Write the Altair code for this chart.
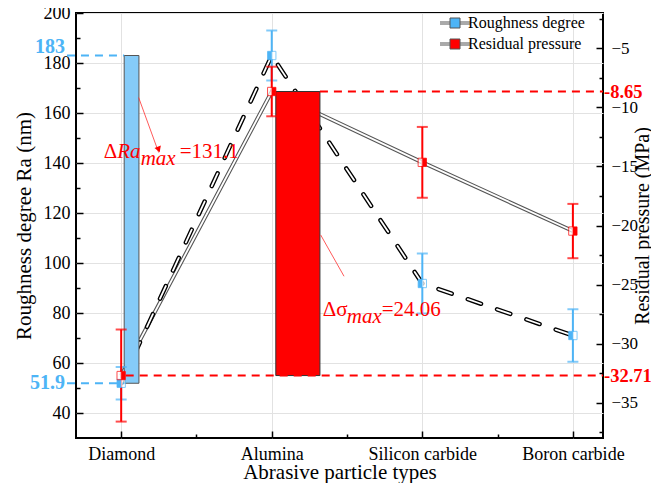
import json
import altair as alt
import pandas as pd

# ---------------- data ----------------
types = ["Diamond", "Alumina", "Silicon carbide", "Boron carbide"]
positions = [0, 1, 2, 3]
roughness = [51.9, 183.0, 91.8, 71.0]
roughness_err = [6.5, 10.0, 12.0, 10.5]
pressure = [-32.71, -8.65, -14.65, -20.47]
pressure_err = [3.9, 2.1, 3.0, 2.3]
series_names = ["Roughness degree", "Residual pressure"]

ra_ticks = [40, 60, 80, 100, 120, 140, 160, 180, 200]
ra_minor = [50, 70, 90, 110, 130, 150, 170, 190]
rp_ticks = [-5, -10, -15, -20, -25, -30, -35]
rp_minor = [-2.5, -7.5, -12.5, -17.5, -22.5, -27.5, -32.5, -37.5]
x_minor = [0.5, 1.5, 2.5]

delta_ra = "131.1"
delta_sigma = "24.06"

RA_DOMAIN = [30, 200]
RP_DOMAIN = [-38, -2]
X_DOMAIN = [-0.3, 3.2]

W, H = 527, 425
BLUE = "#4db4f6"
BLUE_FILL = "#85cbf8"
RED = "#ff0000"
FONT = "Liberation Serif"

df = pd.DataFrame({"type": types, "pos": positions, "ra": roughness, "ra_err": roughness_err,
                   "rp": pressure, "rp_err": pressure_err})
df["ra_lo"] = df["ra"] - df["ra_err"]
df["ra_hi"] = df["ra"] + df["ra_err"]
df["rp_lo"] = df["rp"] - df["rp_err"]
df["rp_hi"] = df["rp"] + df["rp_err"]
df["ra_series"] = series_names[0]
df["rp_series"] = series_names[1]


def X(field="pos", axis=None):
    return alt.X(field, type="quantitative", axis=axis,
                 scale=alt.Scale(domain=X_DOMAIN, nice=False, zero=False))


def X2(field):
    return alt.X2(field)


def YRA(field, axis=None):
    return alt.Y(field, type="quantitative", axis=axis,
                 scale=alt.Scale(domain=RA_DOMAIN, nice=False, zero=False))


def YRP(field, axis=None):
    return alt.Y(field, type="quantitative", axis=axis,
                 scale=alt.Scale(domain=RP_DOMAIN, nice=False, zero=False))


base = alt.Chart(df)
inv = dict(opacity=0)

label_expr = json.dumps(types) + "[datum.value]"

# ---- axes (labels / grid) ----
axis_main = base.mark_point(**inv).encode(
    x=X("pos", alt.Axis(orient="bottom", values=positions, labelExpr=label_expr, ticks=False,
                         grid=True, domain=False, title="Abrasive particle types",
                         labelPadding=7, labelFontSize=18, titleFontSize=21,
                         titleX=W / 2, titleY=34, titleBaseline="middle", titleAlign="center")),
    y=YRA("ra", alt.Axis(orient="left", values=ra_ticks, ticks=False, grid=True, domain=False,
                         title="Roughness degree Ra (nm)", labelPadding=6,
                         labelFontSize=18, titleFontSize=21,
                         titleX=-52, titleY=H / 2, titleAngle=270, titleBaseline="middle",
                         titleAlign="center")),
)
axis_major = base.mark_point(**inv).encode(
    x=X("pos", alt.Axis(orient="bottom", values=positions, labels=False, grid=False, domain=False,
                         title=None, tickSize=alt.ExprRef(expr="-7"), tickWidth=1.5, tickColor="black")),
    y=YRA("ra", alt.Axis(orient="left", values=ra_ticks, labels=False, grid=False, domain=False,
                         title=None, tickSize=alt.ExprRef(expr="-7"), tickWidth=1.5, tickColor="black")),
)
axis_minor = base.mark_point(**inv).encode(
    x=X("pos", alt.Axis(orient="bottom", values=x_minor, labels=False, grid=False, domain=False,
                         title=None, tickSize=alt.ExprRef(expr="-4"), tickWidth=1.5, tickColor="black")),
    y=YRA("ra", alt.Axis(orient="left", values=ra_minor, labels=False, grid=False, domain=False,
                         title=None, tickSize=alt.ExprRef(expr="-4"), tickWidth=1.5, tickColor="black")),
)
axis_rp = base.mark_point(**inv).encode(
    x=X("pos"),
    y=YRP("rp", alt.Axis(orient="right", values=rp_ticks, ticks=False, grid=False, domain=False,
                         title="Residual pressure (MPa)", labelPadding=8,
                         labelFontSize=17, titleFontSize=20,
                         titleX=39, titleY=H / 2, titleAngle=270, titleBaseline="middle",
                         titleAlign="center")),
)
axis_rp_major = base.mark_point(**inv).encode(
    x=X("pos"),
    y=YRP("rp", alt.Axis(orient="right", values=rp_ticks, labels=False, grid=False, domain=False,
                         title=None, tickSize=alt.ExprRef(expr="-7"), tickWidth=1.5, tickColor="black")),
)
axis_rp_minor = base.mark_point(**inv).encode(
    x=X("pos"),
    y=YRP("rp", alt.Axis(orient="right", values=rp_minor, labels=False, grid=False, domain=False,
                         title=None, tickSize=alt.ExprRef(expr="-4"), tickWidth=1.5, tickColor="black")),
)

# ---- lines (double-stroke look) ----
rp_outer = base.mark_line(color="#555555", strokeWidth=4).encode(x=X("pos"), y=YRP("rp"))
rp_inner = base.mark_line(color="white", strokeWidth=1.8).encode(x=X("pos"), y=YRP("rp"))
ra_outer = base.mark_line(color="black", strokeWidth=4.5, strokeDash=[14, 17], strokeCap="round").encode(
    x=X("pos"), y=YRA("ra"))
ra_inner = base.mark_line(color="white", strokeWidth=1.8, strokeDash=[14, 17], strokeCap="round").encode(
    x=X("pos"), y=YRA("ra"))

# ---- difference bars ----
bar_ra_df = pd.DataFrame({"x0": [positions[0] + 0.02], "x1": [positions[0] + 0.118],
                          "lo": [min(roughness)], "hi": [max(roughness)]})
bar_rp_df = pd.DataFrame({"x0": [positions[1] + 0.027], "x1": [positions[1] + 0.32],
                          "lo": [min(pressure)], "hi": [max(pressure)]})
bar_ra = alt.Chart(bar_ra_df).mark_rect(fill=BLUE_FILL, stroke="#555555", strokeWidth=1).encode(
    x=X("x0"), x2=X2("x1"), y=YRA("lo"), y2=alt.Y2("hi"))
bar_rp = alt.Chart(bar_rp_df).mark_rect(fill=RED, stroke="#333333", strokeWidth=1).encode(
    x=X("x0"), x2=X2("x1"), y=YRP("lo"), y2=alt.Y2("hi"))

# ---- error bars ----
eb_ra = base.mark_rule(color=BLUE, strokeWidth=2).encode(x=X("pos"), y=YRA("ra_lo"), y2=alt.Y2("ra_hi"))
cap_ra_lo = base.mark_tick(color=BLUE, orient="horizontal", size=11, thickness=2).encode(x=X("pos"), y=YRA("ra_lo"))
cap_ra_hi = base.mark_tick(color=BLUE, orient="horizontal", size=11, thickness=2).encode(x=X("pos"), y=YRA("ra_hi"))
eb_rp = base.mark_rule(color=RED, strokeWidth=2).encode(x=X("pos"), y=YRP("rp_lo"), y2=alt.Y2("rp_hi"))
cap_rp_lo = base.mark_tick(color=RED, orient="horizontal", size=11, thickness=2).encode(x=X("pos"), y=YRP("rp_lo"))
cap_rp_hi = base.mark_tick(color=RED, orient="horizontal", size=11, thickness=2).encode(x=X("pos"), y=YRP("rp_hi"))

# ---- markers ----
color_scale = alt.Scale(domain=series_names, range=[BLUE, RED])
legend = alt.Legend(orient="none", legendX=361, legendY=2, title=None,
                    symbolType="M-3,-0.2H-1M-3,0.2H-1M1,-0.2H3M1,0.2H3M-1,-1H1V1H-1Z",
                    symbolSize=100, symbolStrokeColor="#555555", symbolStrokeWidth=1,
                    symbolOffset=10, labelOffset=5, labelFont=FONT, labelFontSize=16,
                    labelColor="black", rowPadding=5)

mk_ra = base.mark_point(shape="square", size=70, filled=True, fill="white", stroke=BLUE,
                        strokeWidth=1).encode(x=X("pos"), y=YRA("ra"))
mk_ra_half = base.mark_point(shape="M-1,-1H0V1H-1Z", size=70, filled=True, opacity=1).encode(
    x=X("pos"), y=YRA("ra"), color=alt.Color("ra_series:N", scale=color_scale, legend=legend))
mk_rp = base.mark_point(shape="square", size=70, filled=True, fill="white", stroke=RED,
                        strokeWidth=1).encode(x=X("pos"), y=YRP("rp"))
mk_rp_half = base.mark_point(shape="M0,-1H1V1H0Z", size=70, filled=True, opacity=1).encode(
    x=X("pos"), y=YRP("rp"), color=alt.Color("rp_series:N", scale=color_scale, legend=legend))

# ---- highlight dashed lines and labels ----
hl_ra_df = pd.DataFrame({"v": [max(roughness), min(roughness)],
                         "x0": [X_DOMAIN[0] - 0.06] * 2, "x1": [positions[0] + 0.02] * 2,
                         "label": [f"{max(roughness):g}", f"{min(roughness):g}"],
                         "which": ["max", "min"]})
hl_rp_df = pd.DataFrame({"v": [max(pressure), min(pressure)],
                         "x0": [positions[1] + 0.32, positions[0] + 0.03], "x1": [X_DOMAIN[1]] * 2,
                         "label": [f"{max(pressure):g}", f"{min(pressure):g}"]})
hl_ra = alt.Chart(hl_ra_df).mark_rule(color=BLUE, strokeWidth=2, strokeDash=[8, 6], clip=False).encode(
    x=X("x0"), x2=X2("x1"), y=YRA("v"))
hl_rp = alt.Chart(hl_rp_df).mark_rule(color=RED, strokeWidth=2, strokeDash=[8, 6], clip=False).encode(
    x=X("x0"), x2=X2("x1"), y=YRP("v"))
hl_ra_txt_max = alt.Chart(hl_ra_df).transform_filter(alt.datum.which == "max").mark_text(
    color=BLUE, font=FONT, fontSize=20, fontWeight="bold", align="right", baseline="middle",
    dx=-2, dy=-9, clip=False).encode(x=X("x0"), y=YRA("v"), text="label:N")
hl_ra_txt_min = alt.Chart(hl_ra_df).transform_filter(alt.datum.which == "min").mark_text(
    color=BLUE, font=FONT, fontSize=20, fontWeight="bold", align="right", baseline="middle",
    dx=-2, dy=0, clip=False).encode(x=X("x0"), y=YRA("v"), text="label:N")
hl_rp_txt = alt.Chart(hl_rp_df).mark_text(color=RED, font=FONT, fontSize=18.5, fontWeight="bold",
                                          align="left", baseline="middle", dx=1, clip=False).encode(
    x=X("x1"), y=YRP("v"), text="label:N")

# ---- annotations ----
ann_ra_df = pd.DataFrame({"x": [positions[0]], "y": [142.2]})
ann_parts_ra = [("\u0394", -17.5, 0, "normal", 21), ("Ra", -4, 0, "italic", 21),
                ("max", 19.5, 7, "italic", 21), ("=" + delta_ra, 58.5, 0, "normal", 21)]
ann_ra = [alt.Chart(ann_ra_df).mark_text(text=t, dx=dx, dy=dy, fontStyle=st, fontSize=fs, font=FONT,
                                         color=RED, align="left", baseline="alphabetic").encode(
    x=X("x"), y=YRA("y")) for t, dx, dy, st, fs in ann_parts_ra]

ann_rp_df = pd.DataFrame({"x": [positions[1]], "y": [-27.7]})
ann_parts_rp = [("\u0394\u03c3", 51, 0, "normal", 21), ("max", 75, 7, "italic", 21),
                ("=" + delta_sigma, 110, 0, "normal", 21)]
ann_rp = [alt.Chart(ann_rp_df).mark_text(text=t, dx=dx, dy=dy, fontStyle=st, fontSize=fs, font=FONT,
                                         color=RED, align="left", baseline="alphabetic").encode(
    x=X("x"), y=YRP("y")) for t, dx, dy, st, fs in ann_parts_rp]

arrow_ra_df = pd.DataFrame({"x0": [positions[0] + 0.116], "y0": [166.2], "x1": [positions[0] + 0.249], "y1": [144.2]})
arrow_ra = alt.Chart(arrow_ra_df).mark_rule(color="#ff3030", strokeWidth=0.8).encode(
    x=X("x0"), x2=X2("x1"), y=YRA("y0"), y2=alt.Y2("y1"))
arrow_ra_head = alt.Chart(arrow_ra_df).mark_point(shape="triangle-down", filled=True, color=RED, size=45,
                                                  angle=340, opacity=1, yOffset=-3).encode(
    x=X("x1"), y=YRA("y1"))
arrow_rp_df = pd.DataFrame({"x0": [positions[1] + 0.325], "y0": [-20.8], "x1": [positions[1] + 0.48], "y1": [-24.3]})
arrow_rp = alt.Chart(arrow_rp_df).mark_rule(color="#ff3030", strokeWidth=0.8).encode(
    x=X("x0"), x2=X2("x1"), y=YRP("y0"), y2=alt.Y2("y1"))

layers = [axis_main, axis_major, axis_minor, axis_rp, axis_rp_major, axis_rp_minor,
          rp_outer, rp_inner, ra_outer, ra_inner, bar_ra, bar_rp,
          eb_ra, cap_ra_lo, cap_ra_hi, eb_rp, cap_rp_lo, cap_rp_hi,
          mk_ra, mk_ra_half, mk_rp, mk_rp_half,
          hl_ra, hl_rp, hl_ra_txt_max, hl_ra_txt_min, hl_rp_txt,
          arrow_ra, arrow_ra_head, arrow_rp] + ann_ra + ann_rp

chart = alt.layer(*layers).resolve_scale(y="independent").resolve_axis(x="independent", y="independent").properties(
    width=W, height=H,
    padding={"left": 68, "top": 5, "right": 48, "bottom": 45},
    autosize=alt.AutoSizeParams(type="none"),
    background="white",
).configure_view(stroke="black", strokeWidth=2).configure_axis(
    labelFont=FONT, titleFont=FONT, labelColor="black", titleColor="black", titleFontWeight="normal",
    gridColor="#e2e2e2", gridWidth=1,
)

chart.save("out.html", embed_options={"renderer": "svg", "actions": False})
